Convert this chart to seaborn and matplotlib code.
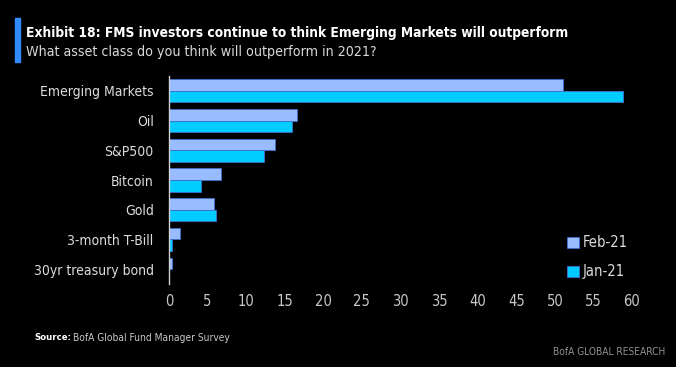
import pandas as pd
import matplotlib.pyplot as plt
import seaborn as sns
from matplotlib.patches import Rectangle

# Данные
categories = ['Emerging Markets', 'Oil', 'S&P500', 'Bitcoin', 'Gold',
              '3-month T-Bill', '30yr treasury bond']
feb_21 = [51.0, 16.6, 13.7, 6.8, 5.8, 1.4, 0.4]
jan_21 = [58.8, 15.9, 12.3, 4.1, 6.1, 0.4, 0.0]
series_names = ['Feb-21', 'Jan-21']
x_ticks = list(range(0, 61, 5))

df = pd.DataFrame({
    'category': categories * 2,
    'value': feb_21 + jan_21,
    'series': [series_names[0]] * len(categories) + [series_names[1]] * len(categories),
})

sns.set_style('dark')
# узкий шрифт, как в оригинале
plt.rcParams['font.family'] = ['DejaVu Sans']
plt.rcParams['font.stretch'] = 'condensed'

fig = plt.figure(figsize=(6.76, 3.67), dpi=100, facecolor='black')
ax = fig.add_axes([169 / 676, 1 - 284 / 367, (632 - 169) / 676, 208 / 367])
ax.set_facecolor('black')

sns.barplot(data=df, y='category', x='value', hue='series', orient='h',
            palette=['#99bbff', '#00ccff'], width=0.78, saturation=1,
            edgecolor='#3f6fd0', linewidth=0.6, ax=ax)

ax.set_xlim(0, 60)
ax.set_ylim(len(categories) - 0.5, -0.5)
ax.set_xticks(x_ticks)
ax.tick_params(axis='x', colors='#c8c8c8', labelsize=10.5, length=0, pad=7)
ax.tick_params(axis='y', colors='#dcdcdc', labelsize=10, length=0, pad=11)
ax.set_xlabel('')
ax.set_ylabel('')
ax.grid(False)
for side in ['top', 'right', 'bottom']:
    ax.spines[side].set_visible(False)
ax.spines['left'].set_color('#d0d0d0')
ax.spines['left'].set_linewidth(1)

leg = ax.legend(loc='lower right', bbox_to_anchor=(1.02, -0.04), frameon=False,
                fontsize=10.5, labelcolor='#dcdcdc', handlelength=0.8,
                handleheight=0.8, handletextpad=0.3, labelspacing=0.95)

# Заголовок
fig.patches.append(Rectangle((15 / 676, 1 - 62 / 367), 5 / 676, 44 / 367,
                             transform=fig.transFigure, color='#2f8bff'))
fig.text(26 / 676, 1 - 33 / 367, 'Exhibit 18: FMS investors continue to think Emerging Markets will outperform',
         color='white', fontsize=9.9, fontweight='bold', va='center')
fig.text(26 / 676, 1 - 52 / 367, 'What asset class do you think will outperform in 2021?',
         color='#d8d8d8', fontsize=10.2, va='center')

fig.text(34 / 676, 1 - 338 / 367, 'Source:', color='white', fontsize=6.8,
         fontweight='bold', va='center')
fig.text(73 / 676, 1 - 338 / 367, 'BofA Global Fund Manager Survey', color='#c8c8c8',
         fontsize=7.3, va='center')
fig.text(665 / 676, 1 - 352 / 367, 'BofA GLOBAL RESEARCH', color='#909090',
         fontsize=7.3, ha='right', va='center')

fig.savefig('out.png', dpi=100, facecolor='black')
